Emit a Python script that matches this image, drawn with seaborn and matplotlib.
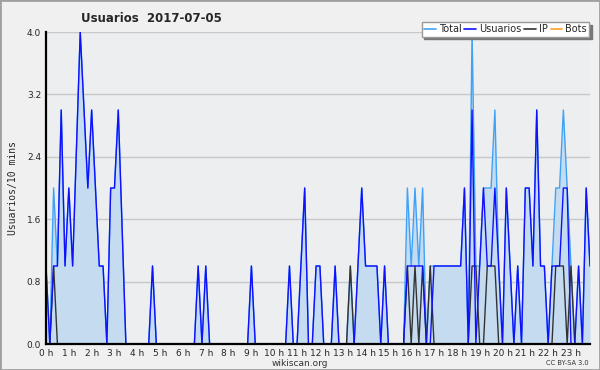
import numpy as np
import pandas as pd
import matplotlib
matplotlib.use("Agg")
import matplotlib.pyplot as plt
import seaborn as sns
from matplotlib.patches import Rectangle
from matplotlib.ticker import MultipleLocator

# 10-minute buckets over the day (144 points)
usuarios = [
    1, 0, 1, 1, 3, 1, 2, 1, 2.5, 4, 3, 2,
    3, 2, 1, 1, 0, 2, 2, 3, 1.5, 0, 0, 0,
    0, 0, 0, 0, 1, 0, 0, 0, 0, 0, 0, 0,
    0, 0, 0, 0, 1, 0, 1, 0, 0, 0, 0, 0,
    0, 0, 0, 0, 0, 0, 1, 0, 0, 0, 0, 0,
    0, 0, 0, 0, 1, 0, 0, 1, 2, 0, 0, 1,
    1, 0, 0, 0, 1, 0, 0, 0, 0, 0, 1, 2,
    1, 1, 1, 1, 0, 1, 0, 0, 0, 0, 0, 1,
    1, 1, 1, 1, 0, 0, 1, 1, 1, 1, 1, 1,
    1, 1, 2, 0, 3, 0, 1, 2, 1, 1, 2, 1,
    0, 2, 1, 0, 1, 0, 2, 2, 1, 3, 1, 1,
    0, 1, 1, 1, 2, 2, 0, 0, 1, 0, 2, 1,
]
ip = [
    0, 0, 1, 0, 0, 0, 0, 0, 0, 0, 0, 0,
    0, 0, 0, 0, 0, 0, 0, 0, 0, 0, 0, 0,
    0, 0, 0, 0, 0, 0, 0, 0, 0, 0, 0, 0,
    0, 0, 0, 0, 0, 0, 0, 0, 0, 0, 0, 0,
    0, 0, 0, 0, 0, 0, 0, 0, 0, 0, 0, 0,
    0, 0, 0, 0, 0, 0, 0, 0, 0, 0, 0, 0,
    0, 0, 0, 0, 0, 0, 0, 0, 1, 0, 0, 0,
    0, 0, 0, 0, 0, 0, 0, 0, 0, 0, 0, 1,
    0, 1, 0, 1, 0, 1, 0, 0, 0, 0, 0, 0,
    0, 0, 0, 0, 1, 1, 0, 0, 1, 1, 1, 0,
    0, 0, 0, 0, 0, 0, 0, 0, 0, 0, 0, 0,
    0, 0, 1, 1, 1, 0, 1, 0, 0, 0, 0, 0,
]
total = [
    1, 0, 2, 1, 3, 1, 2, 1, 2.5, 4, 3, 2,
    3, 2, 1, 1, 0, 2, 2, 3, 1.5, 0, 0, 0,
    0, 0, 0, 0, 1, 0, 0, 0, 0, 0, 0, 0,
    0, 0, 0, 0, 1, 0, 1, 0, 0, 0, 0, 0,
    0, 0, 0, 0, 0, 0, 1, 0, 0, 0, 0, 0,
    0, 0, 0, 0, 1, 0, 0, 1, 2, 0, 0, 1,
    1, 0, 0, 0, 1, 0, 0, 0, 1, 0, 1, 2,
    1, 1, 1, 1, 0, 1, 0, 0, 0, 0, 0, 2,
    1, 2, 1, 2, 0, 1, 1, 1, 1, 1, 1, 1,
    1, 1, 2, 0, 4, 1, 1, 2, 2, 2, 3, 1,
    0, 2, 1, 0, 1, 0, 2, 2, 1, 3, 1, 1,
    0, 1, 2, 2, 3, 2, 1, 0, 1, 0, 2, 1,
]
bots = [0] * 144

hour_labels = [
    "0 h", "1 h", "2 h", "3 h", "4 h", "5 h", "6 h", "7 h",
    "8 h", "9 h", "10 h", "11 h", "12 h", "13 h", "14 h", "15 h",
    "16 h", "17 h", "18 h", "19 h", "20 h", "21 h", "22 h", "23 h",
]
y_ticks = [0.0, 0.8, 1.6, 2.4, 3.2, 4.0]

df = pd.DataFrame({
    "slot": np.arange(len(usuarios)),
    "Total": total,
    "Usuarios": usuarios,
    "IP": ip,
    "Bots": bots,
})

colors = {"Total": "#3fa2f7", "Usuarios": "#1010ff", "IP": "#333333", "Bots": "#ffa020"}

sns.set_theme(style="white")
plt.rcParams["font.family"] = ["DejaVu Sans"]

fig = plt.figure(figsize=(6, 3.7), dpi=100, facecolor="#f0f0f0")
ax = fig.add_axes([46 / 600, 26 / 370, 544 / 600, 312 / 370])
ax.set_facecolor("#edeef0")

# filled area under the total
ax.fill_between(df["slot"], df["Total"], 0, color="#c5dcf0", lw=0, zorder=1)
for name in ["Bots", "Total", "IP", "Usuarios"]:
    sns.lineplot(data=df, x="slot", y=name, ax=ax, color=colors[name],
                 lw=1.0, zorder=3 if name != "Bots" else 2, legend=False)

ax.set_xlim(0, 143)
ax.set_ylim(0, 4.0)
ax.set_yticks(y_ticks)
ax.set_yticklabels([f"{v:.1f}" for v in y_ticks], fontsize=6.5)
ax.yaxis.set_minor_locator(MultipleLocator(0.2))
ax.set_xticks(np.arange(0, 144, 6))
ax.set_xticklabels(hour_labels, fontsize=6.5)
ax.xaxis.set_minor_locator(MultipleLocator(1))
ax.tick_params(axis="both", which="major", direction="out", length=3, width=0.8,
               color="black", pad=0.5)
ax.tick_params(axis="both", which="minor", direction="out", length=2, width=0.8,
               color="black")
ax.grid(axis="y", color="#c8c8c8", lw=1)
ax.set_axisbelow(True)
for side in ["top", "right"]:
    ax.spines[side].set_visible(False)
for side in ["left", "bottom"]:
    ax.spines[side].set_color("black")
    ax.spines[side].set_linewidth(1.6)
    ax.spines[side].set_zorder(5)
ax.set_xlabel("")
ax.set_ylabel("Usuarios/10 mins", fontsize=7, family="DejaVu Sans Mono", labelpad=6)

# legend box top right with shadow
handles = [plt.Line2D([], [], color=colors[n], lw=1.2) for n in ["Total", "Usuarios", "IP", "Bots"]]
leg = fig.legend(handles, ["Total", "Usuarios", "IP", "Bots"], ncol=4,
                 loc="upper right", bbox_to_anchor=(594 / 600, 1 - 17 / 370),
                 fontsize=7, frameon=True, fancybox=False, shadow={"color": "#777777", "alpha": 1},
                 handlelength=1.2, handletextpad=0.3, columnspacing=0.3,
                 borderpad=0.25, edgecolor="#999999", facecolor="white", framealpha=1)
leg.get_frame().set_linewidth(1)

fig.text(151 / 600, 1 - 18 / 370, "Usuarios  2017-07-05", fontsize=8.5,
         fontweight="bold", ha="center", va="center")
fig.text(300 / 600, 1 - 363 / 370, "wikiscan.org", fontsize=6.5, ha="center", va="center",
         color="#333333")
fig.text(589 / 600, 1 - 363 / 370, "CC BY-SA 3.0", fontsize=4.8, ha="right", va="center",
         color="#333333")

# outer frame
fig.patches.append(Rectangle((0, 0), 1, 1, transform=fig.transFigure, fill=False,
                             edgecolor="#a0a0a0", lw=2))

fig.savefig("out.png", dpi=100, facecolor=fig.get_facecolor())
